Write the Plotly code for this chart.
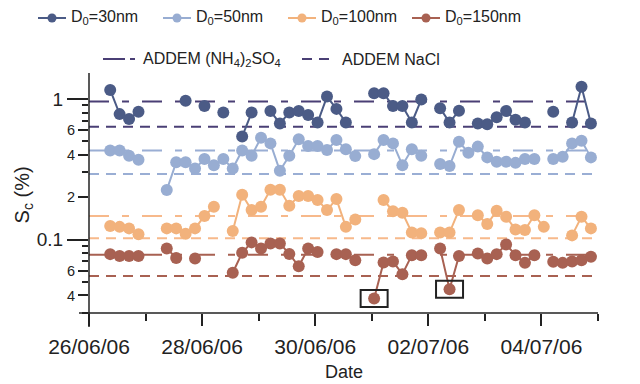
import math
import pandas as pd
import plotly.graph_objects as go

# ---------------- data ----------------
times = pd.date_range("2006-06-26 09:00", periods=52, freq="4h")
N = None
sc_30nm = [1.16, 0.78, 0.72, 0.81, N, N, N, N, 0.97, N,
           0.89, N, 0.80, N, 0.54, 0.80, N, 0.82, 0.67, 0.80,
           0.82, 0.77, 0.68, 1.04, 0.85, 0.68, N, N, 1.10, 1.10,
           0.89, 0.89, 0.68, 0.99, N, 0.86, 0.68, 0.825, N, 0.67,
           0.66, 0.74, 0.82, 0.71, 0.68, N, N, 0.81, N, 0.68,
           1.22, 0.67]
sc_50nm = [0.43, 0.43, 0.395, 0.37, N, N, 0.225, 0.354, 0.354, 0.32,
           0.374, 0.338, 0.374, 0.32, 0.43, 0.394, 0.53, 0.483, 0.308, 0.394,
           0.516, 0.462, 0.462, 0.433, 0.51, 0.438, 0.392, N, 0.405, 0.51,
           0.483, 0.338, 0.438, 0.395, N, 0.345, 0.333, 0.496, 0.415, 0.458,
           0.384, 0.358, 0.358, 0.351, 0.374, 0.374, N, 0.374, 0.388, 0.483,
           0.505, 0.384]
sc_100nm = [0.125, 0.123, 0.120, 0.109, N, N, 0.120, 0.120, 0.110, 0.120,
            0.147, 0.171, N, 0.115, 0.208, 0.162, 0.171, 0.226, 0.226, 0.174,
            0.204, 0.204, 0.191, 0.162, 0.194, 0.123, 0.139, N, N, 0.191,
            0.159, 0.155, 0.112, 0.111, N, 0.112, 0.112, 0.162, N, 0.149,
            0.129, 0.160, 0.145, 0.118, 0.117, 0.149, 0.123, N, N, 0.107,
            0.145, 0.120]
sc_150nm = [0.0787, 0.0764, 0.0764, 0.0764, N, N, 0.0863, 0.0740, N, 0.0733,
            N, N, N, 0.058, 0.0805, 0.0954, 0.0863, 0.0938, 0.0938, 0.079,
            0.0645, 0.0863, 0.0816, N, 0.0787, 0.0787, 0.0713, N, 0.038, 0.0686,
            0.0697, 0.0567, 0.0774, 0.0774, N, 0.0863, 0.0442, 0.0764, N, 0.0795,
            0.0733, 0.0787, 0.0923, 0.0774, 0.0682, 0.0774, N, 0.0694, 0.0682, 0.0697,
            0.0713, 0.0755]

series_names = ["D<sub>0</sub>=30nm", "D<sub>0</sub>=50nm",
                "D<sub>0</sub>=100nm", "D<sub>0</sub>=150nm"]
series_values = [sc_30nm, sc_50nm, sc_100nm, sc_150nm]

addem_names = ["ADDEM (NH<sub>4</sub>)<sub>2</sub>SO<sub>4</sub>", "ADDEM NaCl"]
addem_ammsulf = [0.96, 0.43, 0.147, 0.078]   # ADDEM (NH4)2SO4 per size
addem_nacl = [0.635, 0.292, 0.102, 0.055]    # ADDEM NaCl per size
addem_span = ["2006-06-26 00:00", "2006-07-05 00:00"]

boxed_points = [28, 36]  # indices of highlighted 150 nm points

x_major_vals = ["2006-06-26", "2006-06-28", "2006-06-30", "2006-07-02", "2006-07-04"]
x_major_text = ["26/06/06", "28/06/06", "30/06/06", "02/07/06", "04/07/06"]
x_minor_vals = ["2006-06-27", "2006-06-29", "2006-07-01", "2006-07-03", "2006-07-05"]
y_big_vals = [1, 0.1]
y_big_text = ["1", "0.1"]
y_small_vals = [0.6, 0.4, 0.2, 0.06, 0.04]
y_small_text = ["6", "4", "2", "6", "4"]
y_minor_vals = [0.9, 0.8, 0.7, 0.5, 0.3, 0.09, 0.08, 0.07, 0.05, 0.03]

# ---------------- style / layout geometry ----------------
W, H = 640, 384
M_L, M_R, M_T, M_B = 89, 42, 73, 71
PW, PH = W - M_L - M_R, H - M_T - M_B
series_colors = ["#4b5b86", "#98add2", "#f2b27c", "#a86152"]
addem_colors = ["#4a3f75", "#9aaed4", "#f7b98b", "#a86152"]
dash_amm = "20px,13px,7px,13px"
dash_nacl = "10px,7px"
ink = "#222222"
yrange = [math.log10(0.03), math.log10(1.53)]
px_per_decade = PH / (yrange[1] - yrange[0])
box_half_w, box_half_h = 13.5, 8.5
box_factor = 10 ** (box_half_h / px_per_decade)


def fx(px):
    return (px - M_L) / PW


def fy(py):
    return (M_T + PH - py) / PH


# key (legend) layout in pixels
key1_y = 18
key1_line_x = [38, 163, 288, 412]
key_line_len = 28
key2_y = 59
key2_line_x = [103, 302]
key2_line_len = 32
key_font = 16

fig = go.Figure()

for j in range(4):
    fig.add_trace(go.Scatter(
        x=addem_span, y=[addem_ammsulf[j]] * 2, mode="lines",
        line=dict(color=addem_colors[j], width=2, dash=dash_amm),
        name="ADDEM (NH4)2SO4", showlegend=False, hoverinfo="skip"))
for j in range(4):
    fig.add_trace(go.Scatter(
        x=addem_span, y=[addem_nacl[j]] * 2, mode="lines",
        line=dict(color=addem_colors[j], width=2, dash=dash_nacl),
        name="ADDEM NaCl", showlegend=False, hoverinfo="skip"))

for name, vals, col in zip(series_names, series_values, series_colors):
    fig.add_trace(go.Scatter(
        x=times, y=vals, mode="lines+markers", name=name,
        line=dict(color=col, width=2),
        marker=dict(color=col, size=12),
        connectgaps=False, showlegend=False))

# dummy trace for the overlay axis carrying the long ticks
fig.add_trace(go.Scatter(x=[None], y=[None], yaxis="y2", showlegend=False,
                         hoverinfo="skip"))

shapes = []
annotations = []
for idx in boxed_points:
    shapes.append(dict(type="rect", xref="x", yref="y",
                       xsizemode="pixel", xanchor=times[idx],
                       x0=-box_half_w, x1=box_half_w,
                       y0=sc_150nm[idx] / box_factor, y1=sc_150nm[idx] * box_factor,
                       line=dict(color=ink, width=2)))
# axis lines (offset style)
shapes.append(dict(type="line", xref="paper", yref="paper",
                   x0=fx(M_L - 10), x1=1, y0=0, y1=0, line=dict(color=ink, width=1.5)))
shapes.append(dict(type="line", xref="paper", yref="paper",
                   x0=0, x1=0, y0=fy(M_T + PH + 14), y1=1, line=dict(color=ink, width=1.5)))

# key row 1: series (line + dot + label)
for name, col, lx in zip(series_names, series_colors, key1_line_x):
    shapes.append(dict(type="line", xref="paper", yref="paper",
                       x0=fx(lx), x1=fx(lx + key_line_len), y0=fy(key1_y), y1=fy(key1_y),
                       line=dict(color=col, width=2)))
    cx = lx + key_line_len / 2
    shapes.append(dict(type="circle", xref="paper", yref="paper",
                       x0=fx(cx - 4.5), x1=fx(cx + 4.5),
                       y0=fy(key1_y + 4.5), y1=fy(key1_y - 4.5),
                       line=dict(width=0), fillcolor=col))
    annotations.append(dict(text=name, xref="paper", yref="paper",
                            x=fx(lx + key_line_len + 3), y=fy(key1_y),
                            xanchor="left", yanchor="middle", showarrow=False,
                            font=dict(size=key_font, color=ink)))
# key row 2: ADDEM reference lines
for name, dash, lx in zip(addem_names, ["22px,5px,5px,13px", dash_nacl], key2_line_x):
    shapes.append(dict(type="line", xref="paper", yref="paper",
                       x0=fx(lx), x1=fx(lx + key2_line_len), y0=fy(key2_y), y1=fy(key2_y),
                       line=dict(color=addem_colors[0], width=2, dash=dash)))
    annotations.append(dict(text=name, xref="paper", yref="paper",
                            x=fx(lx + key2_line_len + 6), y=fy(key2_y),
                            xanchor="left", yanchor="middle", showarrow=False,
                            font=dict(size=key_font, color=ink)))

annotations += [
    dict(text="S<sub>c</sub> (%)", xref="paper", yref="paper",
         x=fx(23), y=0.49, xanchor="center", yanchor="middle",
         textangle=-90, showarrow=False, font=dict(size=20, color=ink)),
    dict(text="Date", xref="paper", yref="paper",
         x=0.5, y=fy(H), xanchor="center", yanchor="bottom",
         showarrow=False, font=dict(size=18, color=ink)),
]

fig.update_layout(
    width=W, height=H,
    margin=dict(l=M_L, r=M_R, t=M_T, b=M_B, autoexpand=False),
    paper_bgcolor="white", plot_bgcolor="white",
    font=dict(family="Liberation Sans, Arial, sans-serif", color=ink),
    showlegend=False,
    xaxis=dict(type="date", range=["2006-06-26", "2006-07-05"],
               tickmode="array", tickvals=x_major_vals, ticktext=x_major_text,
               ticks="outside", ticklen=12, tickwidth=1.5, tickcolor=ink,
               tickfont=dict(size=21, color=ink), ticklabelstandoff=3,
               minor=dict(tickmode="array", tickvals=x_minor_vals, ticks="outside",
                          ticklen=7, tickwidth=1.5, tickcolor=ink, showgrid=False),
               showgrid=False, showline=False, zeroline=False),
    yaxis=dict(type="log", range=yrange,
               tickmode="array", tickvals=y_small_vals, ticktext=y_small_text,
               ticks="outside", ticklen=10, tickwidth=1.5, tickcolor=ink,
               tickfont=dict(size=14.5, color=ink),
               minor=dict(tickmode="array", tickvals=y_minor_vals, ticks="outside",
                          ticklen=6.5, tickwidth=1.5, tickcolor=ink, showgrid=False),
               showgrid=False, showline=False, zeroline=False),
    yaxis2=dict(type="log", range=yrange, overlaying="y", side="left",
                tickmode="array", tickvals=y_big_vals, ticktext=y_big_text,
                ticks="outside", ticklen=21, tickwidth=1.5, tickcolor=ink,
                tickfont=dict(size=19, color=ink),
                showgrid=False, showline=False, zeroline=False),
    shapes=shapes,
    annotations=annotations,
)

fig.write_html("out.html")
